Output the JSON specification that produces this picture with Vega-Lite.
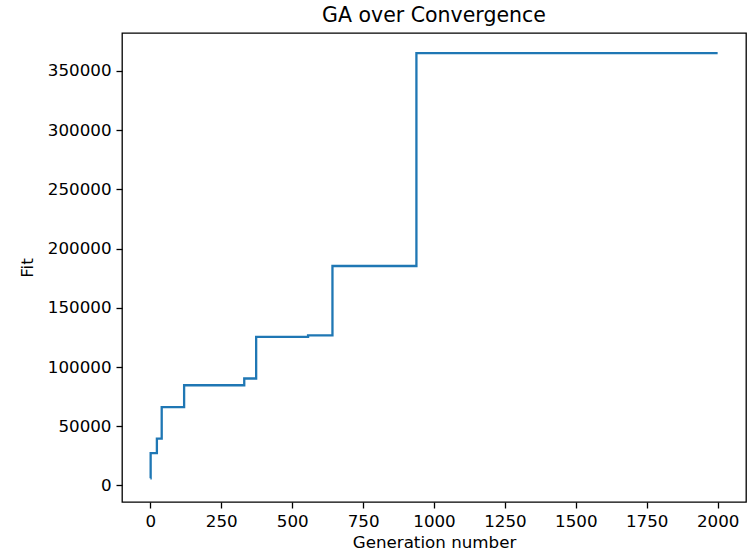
{
  "$schema": "https://vega.github.io/schema/vega-lite/v6.json",
  "autosize": "none",
  "width": 624,
  "height": 469,
  "padding": {"left": 122, "top": 33, "right": 9, "bottom": 50},
  "background": "white",
  "title": {"text": "GA over Convergence", "font": "DejaVu Sans", "fontSize": 20.5, "fontWeight": "normal", "color": "black", "offset": 7},
  "config": {
    "view": {"stroke": "black", "strokeWidth": 1.3},
    "axis": {"grid": false, "domain": false, "tickColor": "black", "tickWidth": 1.3, "tickSize": 6, "labelFont": "DejaVu Sans", "labelFontSize": 16.7, "labelColor": "black", "titleFont": "DejaVu Sans", "titleFontSize": 16.7, "titleFontWeight": "normal", "titleColor": "black", "labelPadding": 5}
  },
  "data": {"values": [
    {"gen": 0, "fit": 6000},
    {"gen": 1, "fit": 27300},
    {"gen": 23, "fit": 39500},
    {"gen": 40, "fit": 66200},
    {"gen": 119, "fit": 84600},
    {"gen": 331, "fit": 90300},
    {"gen": 373, "fit": 125500},
    {"gen": 556, "fit": 126800},
    {"gen": 642, "fit": 185300},
    {"gen": 938, "fit": 365000},
    {"gen": 2000, "fit": 365000}
  ]},
  "mark": {"type": "line", "interpolate": "step-after", "color": "#1f77b4", "strokeWidth": 2.3},
  "encoding": {
    "x": {"field": "gen", "type": "quantitative", "scale": {"domain": [-100, 2100], "nice": false, "zero": false}, "axis": {"values": [0, 250, 500, 750, 1000, 1250, 1500, 1750, 2000], "format": "d", "title": "Generation number", "titlePadding": 5}},
    "y": {"field": "fit", "type": "quantitative", "scale": {"domain": [-13950, 382000], "nice": false, "zero": false}, "axis": {"values": [0, 50000, 100000, 150000, 200000, 250000, 300000, 350000], "format": "d", "title": "Fit", "titlePadding": 11}}
  }
}
